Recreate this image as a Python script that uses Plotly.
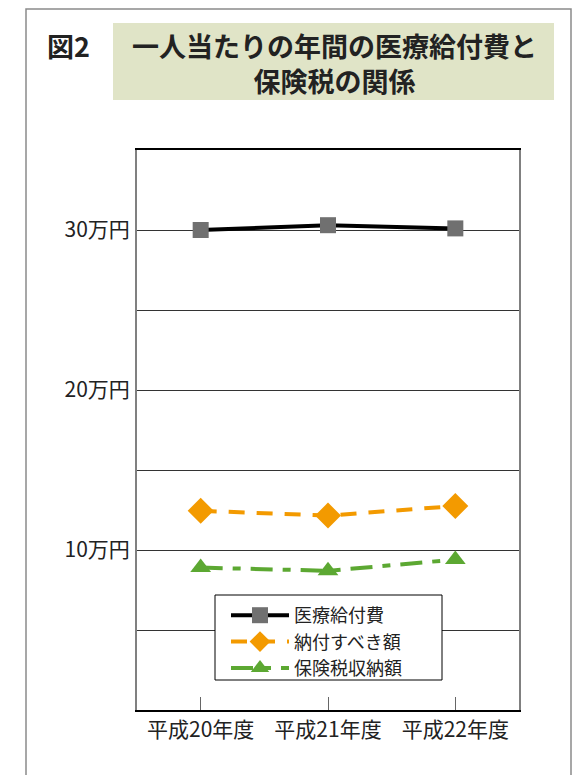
import plotly.graph_objects as go

# ---- data ----
categories = ["平成20年度", "平成21年度", "平成22年度"]
iryo_kyufu = [30.0, 30.3, 30.1]        # 医療給付費 (万円)
nofu_subeki = [12.45, 12.15, 12.75]    # 納付すべき額 (万円)
hokenzei_shuno = [8.9, 8.7, 9.4]       # 保険税収納額 (万円)
series_names = ["医療給付費", "納付すべき額", "保険税収納額"]
y_tickvals = [5, 10, 15, 20, 25, 30]
y_ticktext = ["", "10万円", "", "20万円", "", "30万円"]

W, H = 572, 775
L, R, T, B = 137, 519, 150, 710
FONT = "Noto Sans CJK JP"


def px(x):
    return (x - L) / (R - L)


def py(y):
    return (B - y) / (B - T)


fig = go.Figure()
fig.add_trace(go.Scatter(
    x=categories, y=iryo_kyufu, name=series_names[0], mode="lines+markers",
    line=dict(color="#000000", width=4),
    marker=dict(symbol="square", size=16, color="#707070"),
))
fig.add_trace(go.Scatter(
    x=categories, y=nofu_subeki, name=series_names[1], mode="lines+markers",
    line=dict(color="#f39a00", width=4, dash="16px,12px"),
    marker=dict(symbol="diamond", size=20, color="#f39a00"),
))
fig.add_trace(go.Scatter(
    x=categories, y=hokenzei_shuno, name=series_names[2], mode="lines+markers",
    line=dict(color="#5ca832", width=4, dash="22px,10px,8px,10px"),
    marker=dict(symbol="triangle-up", size=18, color="#5ca832"),
))

fig.update_layout(
    width=W, height=H,
    margin=dict(l=L, r=W - R, t=T, b=H - B, pad=0),
    paper_bgcolor="white", plot_bgcolor="white",
    font=dict(family=FONT, size=18, color="#222222"),
    showlegend=True,
    legend=dict(
        x=px(226), y=py(597), xanchor="left", yanchor="top",
        bgcolor="rgba(0,0,0,0)", borderwidth=0,
        font=dict(family=FONT, size=18, color="#222222"),
        tracegroupgap=0, itemwidth=58,
    ),
    xaxis=dict(
        type="category", range=[-0.5, 2.5],
        showline=True, linecolor="#000000", linewidth=2, mirror=True,
        ticks="inside", ticklen=13, tickcolor="#666666", tickwidth=1,
        showgrid=False, tickfont=dict(family=FONT, size=21, color="#222222"),
        fixedrange=True,
    ),
    yaxis=dict(
        range=[0, 35], tickvals=y_tickvals, ticktext=y_ticktext,
        showline=True, linecolor="#808080", linewidth=2, mirror=True,
        showgrid=True, gridcolor="#333333", gridwidth=1,
        ticks="", zeroline=False,
        tickfont=dict(family=FONT, size=21, color="#222222"),
        ticklabelstandoff=1,
    ),
    shapes=[
        dict(type="rect", xref="paper", yref="paper",
             x0=px(26), x1=px(571), y0=py(790), y1=py(9),
             line=dict(color="#8a8a8a", width=1.5), fillcolor="rgba(0,0,0,0)",
             layer="below"),
        dict(type="rect", xref="paper", yref="paper",
             x0=px(113), x1=px(554), y0=py(100), y1=py(23),
             line=dict(width=0), fillcolor="#e0e4c7", layer="below"),
        dict(type="rect", xref="paper", yref="paper",
             x0=px(215), x1=px(442), y0=py(680), y1=py(595),
             line=dict(color="#000000", width=1), fillcolor="white",
             layer="above"),
    ],
    annotations=[
        dict(text="<b>図2</b>", xref="paper", yref="paper", x=px(68), y=py(45),
             showarrow=False, xanchor="center", yanchor="middle",
             font=dict(family=FONT, size=27, color="#222222")),
        dict(text="<b>一人当たりの年間の医療給付費と<br>保険税の関係</b>",
             xref="paper", yref="paper", align="center",
             x=px(334), y=py(63), showarrow=False, xanchor="center", yanchor="middle",
             font=dict(family=FONT, size=27, color="#222222")),
    ],
)

fig.write_html("out.html")
